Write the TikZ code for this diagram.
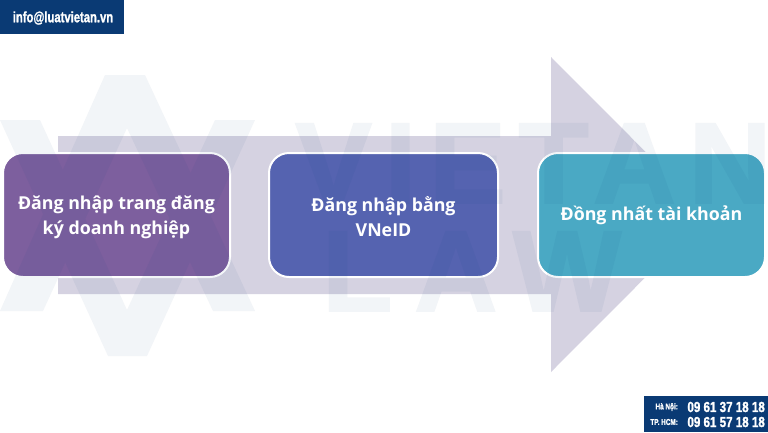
\documentclass[tikz,border=0pt]{standalone}
\usepackage{fontspec}
\setmainfont{Open Sans}
\newfontfamily\wmfont[LetterSpace=11,FakeBold=1.6]{Liberation Sans}
\newfontfamily\wmfontb[LetterSpace=19,FakeBold=1.6]{Liberation Sans}
\newfontfamily\tagfont[FakeBold=1.5]{Liberation Sans}
\definecolor{navy}{HTML}{0A3A74}
\definecolor{wm}{HTML}{003C78}
\definecolor{arrowc}{HTML}{D5D2E1}
\definecolor{boxa}{HTML}{7D5F9E}
\definecolor{boxb}{HTML}{5563B0}
\definecolor{boxc}{HTML}{4AA9C4}
\tikzset{
  stepbox/.style={draw=white,line width=2pt,rounded corners=20pt},
  steplabel/.style={text=white,font=\bfseries\fontsize{17.8}{25}\selectfont,align=center,anchor=center},
  tagbox/.style={fill=navy,draw=none},
  tagtext/.style={text=white,inner sep=0pt},
  wmark/.style={transparency group,opacity=.05},
  wmtext/.style={text=wm,inner sep=0pt,anchor=base west}
}
\begin{document}
\begin{tikzpicture}[x=1pt,y=-1pt]
\useasboundingbox (0,0) rectangle (768,432);
\fill[white] (0,0) rectangle (768,432);
% big arrow
\fill[arrowc] (58,136) -- (551,136) -- (551,57) -- (708,214.5) -- (551,372) -- (551,294) -- (58,294) -- cycle;
% step boxes
\draw[stepbox,fill=boxa] (3,153) rectangle (230,277);
\draw[stepbox,fill=boxb] (269,153) rectangle (498,277);
\draw[stepbox,fill=boxc] (538,153) rectangle (765,277);
% watermark
\begin{scope}[wmark]
  \fill[wm] (0,120) -- (108,356) -- (147,356) -- (255,120) -- (215,120) -- (127,310) -- (40,120) -- cycle;
  \fill[wm] (105,75) -- (0,311) -- (43,311) -- (127,128) -- (213,311) -- (255,311) -- (145,75) -- cycle;
  \node[wmtext,font=\wmfont\bfseries\fontsize{115}{115}\selectfont] (wmvietan) at (295,203) {VIETAN};
  \node[wmtext,font=\wmfontb\bfseries\fontsize{115}{115}\selectfont] (wmlaw) at (322,311) {LAW};
\end{scope}
% step labels
\node[steplabel] (s1) at (116.5,217) {Đăng nhập trang đăng\\ký doanh nghiệp};
\node[steplabel] (s2) at (383.5,217) {Đăng nhập bằng\\VNeID};
\node[steplabel] (s3) at (651.5,215.5) {Đồng nhất tài khoản};
% corner tags
\fill[tagbox] (0,0) rectangle (124,34);
\node[tagtext,font=\tagfont\bfseries\fontsize{15}{15}\selectfont,xscale=.75] (mail) at (63,18) {info@luatvietan.vn};
\fill[tagbox] (644,396) rectangle (768,432);
\node[tagtext,font=\tagfont\bfseries\fontsize{8.5}{8.5}\selectfont,xscale=.75,anchor=east] (hn) at (678,407) {Hà Nội:};
\node[tagtext,font=\tagfont\bfseries\fontsize{8.5}{8.5}\selectfont,xscale=.75,anchor=east] (hcm) at (678,422) {TP. HCM:};
\node[tagtext,font=\tagfont\bfseries\fontsize{14.5}{14.5}\selectfont,xscale=.8,anchor=east] (p1) at (765,407) {09 61 37 18 18};
\node[tagtext,font=\tagfont\bfseries\fontsize{14.5}{14.5}\selectfont,xscale=.8,anchor=east] (p2) at (765,422) {09 61 57 18 18};
\end{tikzpicture}
\end{document}
